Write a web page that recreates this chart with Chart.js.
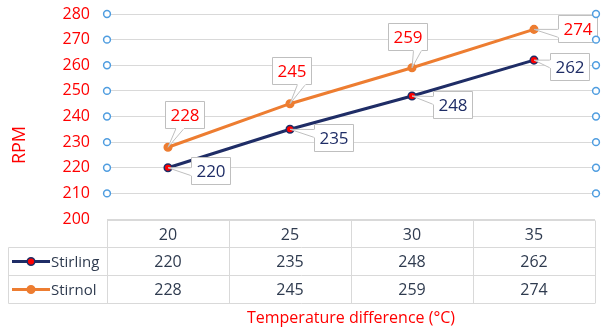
<!DOCTYPE html>
<html>
<head>
<meta charset="utf-8">
<script src="https://cdn.jsdelivr.net/npm/chart.js@4/dist/chart.umd.min.js"></script>
<style>
  html, body { margin: 0; padding: 0; background: #ffffff; }
  #wrap { width: 605px; height: 331px; }
</style>
</head>
<body>
<div id="wrap"><canvas id="rpmChart" width="605" height="331"></canvas></div>
<script>
// Temperature difference categories (°C)
const temperatureDiffs = ['20', '25', '30', '35'];
// Engine speed readings (RPM)
const stirlingRpm = [220, 235, 248, 262];
const stirnolRpm = [228, 245, 259, 274];
// Y axis range
const rpmMin = 200;
const rpmMax = 280;
const rpmStep = 10;

const FONT = '"Open Sans", "DejaVu Sans", sans-serif';
const RED = '#ff0000';
const NAVY = '#1f2d66';
const ORANGE = '#ed7d31';
const TEXT_DARK = '#2f3b4f';
const GRID = '#d9d9d9';

// callout placement: box centre relative to its point, per series
const calloutShift = {
  0: [[42, 3], [43, 8], [40, 8], [35, 6]],
  1: [[16, -33], [1, -33], [-5, -31], [43, -1]]
};

function drawCallout(ctx, px, py, cx, cy, text, color) {
  ctx.font = '17px ' + FONT;
  const w = Math.round(ctx.measureText(text).width + 10);
  const h = 27;
  const l = Math.round(cx - w / 2) + 0.5, t = Math.round(cy - h / 2) + 0.5;
  const r = l + w, b = t + h;
  // wedge pointing at the data point
  let a, c;
  if (py > b) {
    const bx = Math.min(Math.max(px + 8, l + 6), r - 14);
    a = [bx, b]; c = [bx + 8, b];
  } else if (py < t) {
    const bx = Math.min(Math.max(px - 4, l + 6), r - 14);
    a = [bx, t]; c = [bx + 8, t];
  } else if (px < l) {
    const by = Math.min(Math.max(py, t + 5), b - 12);
    a = [l, by]; c = [l, by + 8];
  } else {
    const by = Math.min(Math.max(py, t + 5), b - 12);
    a = [r, by]; c = [r, by + 8];
  }
  ctx.save();
  ctx.lineWidth = 1;
  ctx.strokeStyle = '#bfbfbf';
  ctx.fillStyle = '#ffffff';
  ctx.beginPath();
  ctx.moveTo(a[0], a[1]); ctx.lineTo(px, py); ctx.lineTo(c[0], c[1]); ctx.closePath();
  ctx.fill(); ctx.stroke();
  ctx.beginPath();
  ctx.rect(l, t, w, h);
  ctx.fill(); ctx.stroke();
  // open the box edge where the wedge joins it
  ctx.beginPath();
  ctx.moveTo(a[0], a[1]); ctx.lineTo(c[0], c[1]);
  ctx.lineWidth = 1.6;
  ctx.strokeStyle = '#ffffff';
  ctx.stroke();
  ctx.fillStyle = color;
  ctx.textAlign = 'center';
  ctx.textBaseline = 'middle';
  ctx.fillText(text, l + w / 2, t + h / 2 + 1);
  ctx.restore();
}

const calloutPlugin = {
  id: 'callouts',
  afterDatasetsDraw(chart) {
    const ctx = chart.ctx;
    chart.data.datasets.forEach((ds, di) => {
      const meta = chart.getDatasetMeta(di);
      meta.data.forEach((pt, i) => {
        const s = calloutShift[di][i];
        drawCallout(ctx, pt.x, pt.y, pt.x + s[0], pt.y + s[1], String(ds.data[i]),
          di === 0 ? NAVY : RED);
      });
    });
  }
};

const framePlugin = {
  id: 'frame',
  afterDraw(chart) {
    const ctx = chart.ctx;
    const area = chart.chartArea;
    const y = chart.scales.y;
    const x = chart.scales.x;
    ctx.save();

    // gridline end handles
    ctx.lineWidth = 1.5;
    ctx.strokeStyle = '#4f9de0';
    ctx.fillStyle = '#ffffff';
    for (let v = rpmMin + rpmStep; v <= rpmMax; v += rpmStep) {
      const yy = y.getPixelForValue(v);
      [area.left, area.right + 1].forEach(xx => {
        ctx.beginPath();
        ctx.arc(xx, yy, 3.4, 0, Math.PI * 2);
        ctx.fill(); ctx.stroke();
      });
    }

    // axis title
    ctx.fillStyle = RED;
    ctx.font = '18px ' + FONT;
    ctx.textAlign = 'center';
    ctx.textBaseline = 'middle';
    ctx.save();
    ctx.translate(20, 145);
    ctx.rotate(-Math.PI / 2);
    ctx.fillText('RPM', 0, 0);
    ctx.restore();

    // data table below the plot
    const n = temperatureDiffs.length;
    const band = (area.right - area.left) / n;
    const left = 8.5;
    const rows = [Math.round(area.bottom) + 1.5];
    rows.push(rows[0] + 27, rows[0] + 55, rows[0] + 83);
    ctx.strokeStyle = GRID;
    ctx.lineWidth = 1;
    ctx.beginPath();
    ctx.moveTo(area.left, rows[0]); ctx.lineTo(area.right, rows[0]);
    for (let r = 1; r < rows.length; r++) {
      ctx.moveTo(left, rows[r]); ctx.lineTo(area.right, rows[r]);
    }
    ctx.moveTo(left, rows[1]); ctx.lineTo(left, rows[3]);
    for (let c = 0; c <= n; c++) {
      const xx = Math.round(area.left + band * c) + 0.5;
      ctx.moveTo(xx, rows[0]); ctx.lineTo(xx, rows[3]);
    }
    ctx.stroke();

    ctx.font = '16px ' + FONT;
    ctx.fillStyle = TEXT_DARK;
    ctx.textAlign = 'center';
    temperatureDiffs.forEach((lab, i) => {
      const cx = x.getPixelForValue(i);
      ctx.fillText(lab, cx, (rows[0] + rows[1]) / 2 + 1);
      ctx.fillText(String(stirlingRpm[i]), cx, (rows[1] + rows[2]) / 2 + 1);
      ctx.fillText(String(stirnolRpm[i]), cx, (rows[2] + rows[3]) / 2 + 1);
    });

    // series keys in the table
    chart.data.datasets.forEach((ds, di) => {
      const cy = (rows[1 + di] + rows[2 + di]) / 2;
      ctx.strokeStyle = ds.borderColor;
      ctx.lineWidth = 3;
      ctx.beginPath();
      ctx.moveTo(12, cy); ctx.lineTo(50, cy);
      ctx.stroke();
      ctx.beginPath();
      ctx.arc(31, cy, 3.8, 0, Math.PI * 2);
      ctx.fillStyle = ds.pointBackgroundColor;
      ctx.fill();
      ctx.lineWidth = 1.5;
      ctx.strokeStyle = ds.pointBorderColor;
      ctx.stroke();
      ctx.fillStyle = TEXT_DARK;
      ctx.textAlign = 'left';
      ctx.font = '15px ' + FONT;
      ctx.fillText(ds.label, 51, cy + 1);
    });

    // category axis title
    ctx.fillStyle = RED;
    ctx.font = '16px ' + FONT;
    ctx.textAlign = 'center';
    ctx.fillText('Temperature difference (°C)', (area.left + area.right) / 2, 318);
    ctx.restore();
  }
};

new Chart(document.getElementById('rpmChart'), {
  type: 'line',
  data: {
    labels: temperatureDiffs,
    datasets: [
      {
        label: 'Stirling',
        data: stirlingRpm,
        borderColor: NAVY,
        borderWidth: 3,
        pointRadius: 3.8,
        pointBackgroundColor: RED,
        pointBorderColor: NAVY,
        pointBorderWidth: 1.5,
        tension: 0
      },
      {
        label: 'Stirnol',
        data: stirnolRpm,
        borderColor: ORANGE,
        borderWidth: 3,
        pointRadius: 3.8,
        pointBackgroundColor: ORANGE,
        pointBorderColor: ORANGE,
        pointBorderWidth: 1.5,
        tension: 0
      }
    ]
  },
  options: {
    responsive: false,
    devicePixelRatio: 1,
    animation: false,
    layout: { padding: { left: 0, right: 10, top: 14, bottom: 112 } },
    plugins: {
      legend: { display: false },
      tooltip: { enabled: false },
      title: { display: false }
    },
    scales: {
      x: {
        type: 'category',
        offset: true,
        display: false
      },
      y: {
        min: rpmMin,
        max: rpmMax,
        ticks: {
          stepSize: rpmStep,
          color: RED,
          padding: 17,
          font: { family: FONT, size: 16 }
        },
        grid: { color: GRID, lineWidth: 1, drawTicks: false },
        border: { display: false },
        afterFit(scale) {
          scale.width = 107;
          scale.paddingTop = 0;
          scale.paddingBottom = 0;
        }
      }
    }
  },
  plugins: [calloutPlugin, framePlugin]
});
</script>
</body>
</html>
